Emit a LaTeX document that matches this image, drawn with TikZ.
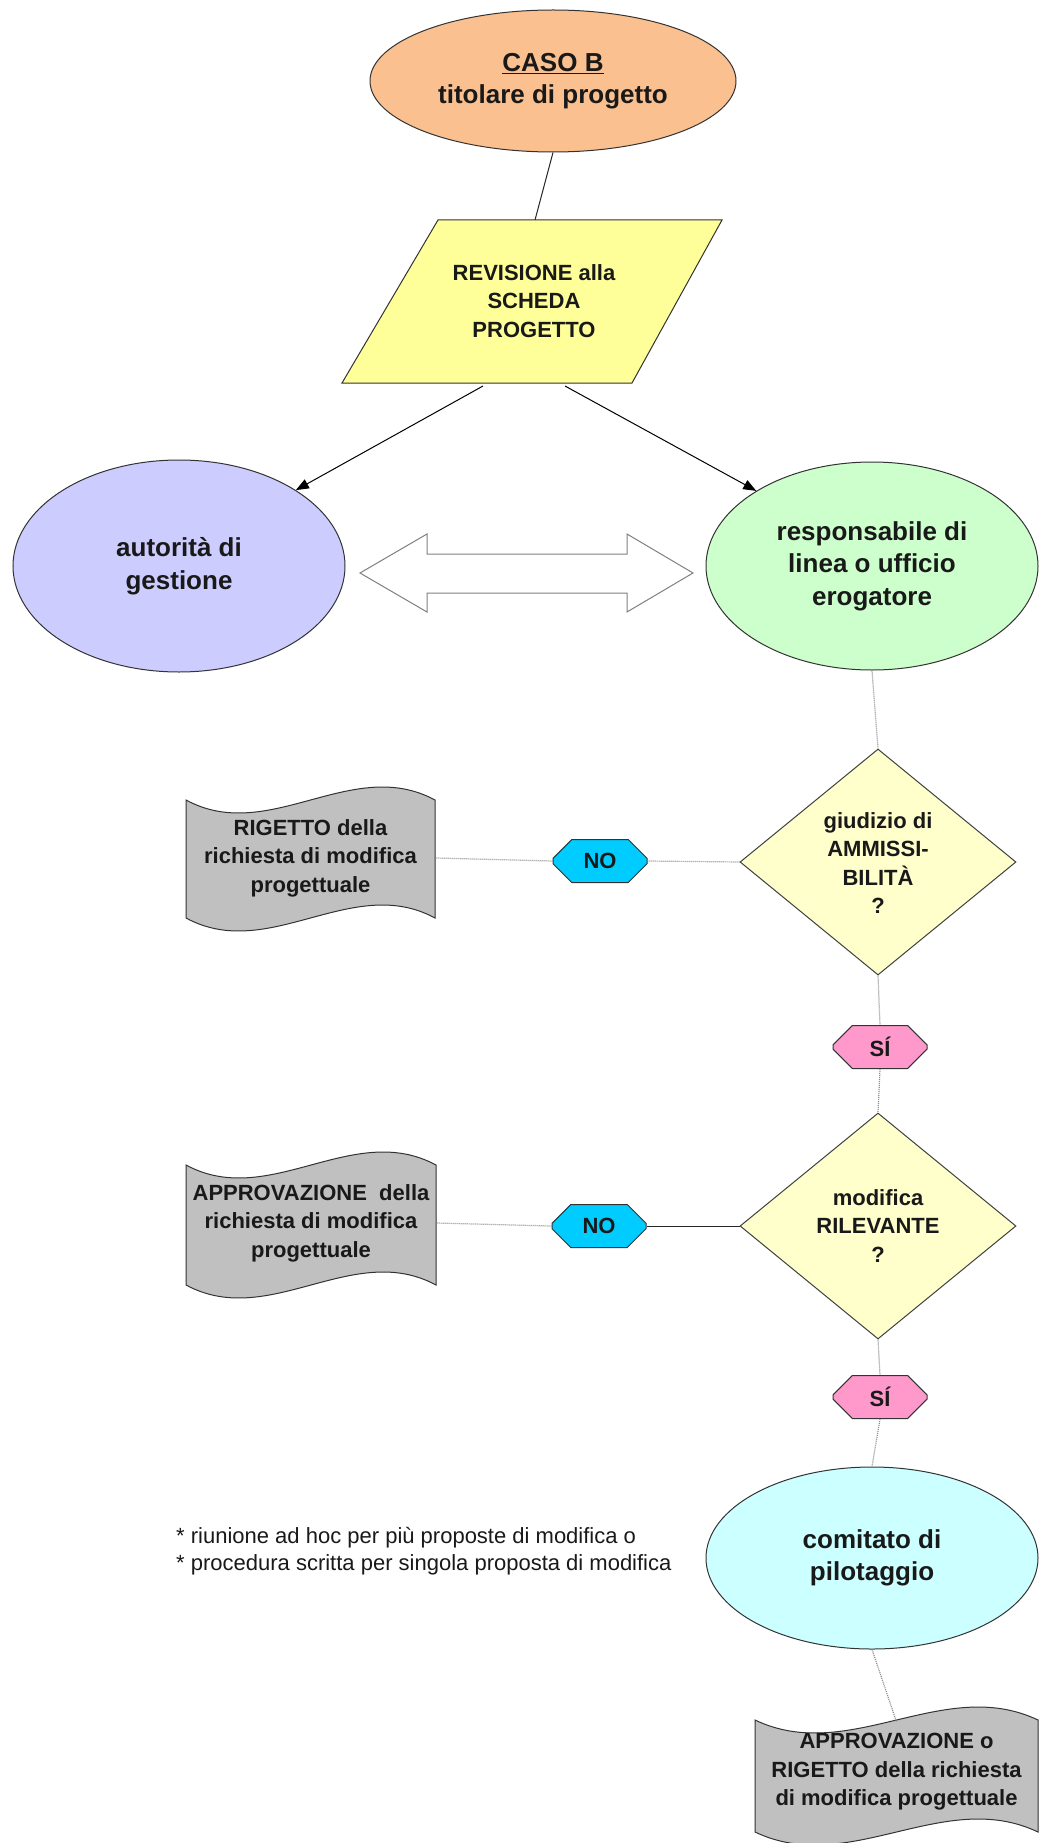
\documentclass[tikz,border=0pt]{standalone}
\usepackage{fontspec}
\setmainfont{Liberation Sans}
\usetikzlibrary{shapes.geometric,shapes.misc,arrows.meta}
\definecolor{peach}{RGB}{250,192,144}
\definecolor{parayel}{RGB}{255,255,153}
\definecolor{lilac}{RGB}{204,204,255}
\definecolor{mint}{RGB}{204,255,204}
\definecolor{dyel}{RGB}{255,255,204}
\definecolor{nocyan}{RGB}{0,204,255}
\definecolor{sipink}{RGB}{255,153,204}
\definecolor{docgray}{RGB}{192,192,192}
\definecolor{cyanl}{RGB}{204,255,255}
\newcommand{\mydocshape}[4]{%
  \path[docst] (#1,#3) .. controls ({#1+(#2-#1)/3},{#3+45}) and ({#1+2*(#2-#1)/3},{#3-45}) .. (#2,#3)
    -- (#2,#4) .. controls ({#1+2*(#2-#1)/3},{#4-45}) and ({#1+(#2-#1)/3},{#4+45}) .. (#1,#4) -- cycle;}
\begin{document}
\begin{tikzpicture}[x=1pt,y=-1pt,
  lab/.style={font=\bfseries\fontsize{22}{28.5}\selectfont, align=center, text=black!90, inner sep=0pt},
  ell/.style={ellipse, draw=black!80, line width=1pt, inner sep=0pt, align=center, text=black!90,
    font=\bfseries\fontsize{26}{32.5}\selectfont},
  dia/.style={diamond, draw=black!75, line width=1pt, fill=dyel, minimum width=276pt, minimum height=226pt, inner sep=0pt},
  tag/.style={chamfered rectangle, chamfered rectangle xsep=9pt, chamfered rectangle ysep=11pt, draw=black!80,
    line width=1pt, minimum width=94pt, minimum height=43pt, inner sep=0pt, text=black!90,
    font=\bfseries\fontsize{22}{26}\selectfont},
  docst/.style={fill=docgray, draw=black!80, line width=1pt},
  dotline/.style={draw=gray!90, dash pattern=on 1pt off 1pt, line width=1.2pt},
  solidline/.style={draw=black!85, line width=1pt},
  arr/.style={draw=black, line width=1pt, -{Triangle[length=13pt,width=10pt]}}
]
\path[use as bounding box] (0,0) rectangle (1040,1843);
\clip (0,0) rectangle (1040,1843);
\fill[white] (0,0) rectangle (1040,1843);

% top ellipse
\node[ell, fill=peach, minimum width=366pt, minimum height=142pt] (caso) at (553,81)
  {\underline{CASO B}\\titolare di progetto};

% parallelogram
\path[fill=parayel, draw=black!80, line width=1pt] (438,220) -- (722,220) -- (632,383) -- (342,383) -- cycle;
\node[lab] (para) at (534,301) {REVISIONE alla\\SCHEDA\\PROGETTO};
\coordinate (ptop) at (535,220);
\coordinate (pl) at (483,386);
\coordinate (pr) at (565,386);

% actors
\node[ell, fill=lilac, minimum width=332pt, minimum height=212pt] (autorita) at (179,566) {autorità di\\gestione};
\node[ell, fill=mint, minimum width=332pt, minimum height=208pt] (respons) at (872,566) {responsabile di\\linea o ufficio\\erogatore};

% double arrow
\path[fill=white, draw=gray, line width=1pt] (360,573) -- (427,534) -- (427,554) -- (627,554) -- (627,534) -- (693,573)
  -- (627,612) -- (627,593) -- (427,593) -- (427,612) -- cycle;

% decision 1
\node[dia] (d1) at (878,862) {};
\node[lab] (d1t) at (878,863) {giudizio di\\AMMISSI-\\BILITÀ\\?};
\node[tag, fill=nocyan] (no1) at (600,861) {NO};
\mydocshape{186}{435}{800}{918}
\node[lab, minimum width=249pt, minimum height=100pt] (doc1) at (310.5,858) {RIGETTO della\\richiesta di modifica\\progettuale};
\node[tag, fill=sipink] (si1) at (880,1047) {SÍ};

% decision 2
\node[dia] (d2) at (878,1226) {};
\node[lab] (d2t) at (878,1226) {modifica\\RILEVANTE\\?};
\node[tag, fill=nocyan] (no2) at (599,1226) {NO};
\mydocshape{186}{436}{1165}{1285}
\node[lab, minimum width=250pt, minimum height=100pt] (doc2) at (311,1223) {APPROVAZIONE~ della\\richiesta di modifica\\progettuale};
\node[tag, fill=sipink] (si2) at (880,1397) {SÍ};

% comitato
\node[ell, fill=cyanl, minimum width=332pt, minimum height=182pt] (comit) at (872,1558) {comitato di\\pilotaggio};
\node[anchor=west, align=left, inner sep=0pt, text=black!90, font=\fontsize{22}{27}\selectfont] (note) at (176,1551)
  {* riunione ad hoc per più proposte di modifica o\\* procedura scritta per singola proposta di modifica};

\mydocshape{755}{1038}{1720}{1832}
\node[lab, minimum width=283pt, minimum height=100pt] (doc3) at (896.5,1772) {APPROVAZIONE o\\RIGETTO della richiesta\\di modifica progettuale};

% connectors
\draw[solidline] (caso.south) -- (ptop);
\draw[arr] (pl) -- (autorita.33);
\draw[arr] (pr) -- (respons.147);
\draw[dotline] (respons.south) -- (d1.north);
\draw[dotline] (d1.west) -- (no1.east);
\draw[dotline] (no1.west) -- (doc1.east);
\draw[dotline] (d1.south) -- (si1.north);
\draw[dotline] (si1.south) -- (d2.north);
\draw[solidline] (d2.west) -- (no2.east);
\draw[dotline] (no2.west) -- (doc2.east);
\draw[dotline] (d2.south) -- (si2.north);
\draw[dotline] (si2.south) -- (comit.north);
\draw[dotline] (comit.south) -- (doc3.north);
\end{tikzpicture}
\end{document}
